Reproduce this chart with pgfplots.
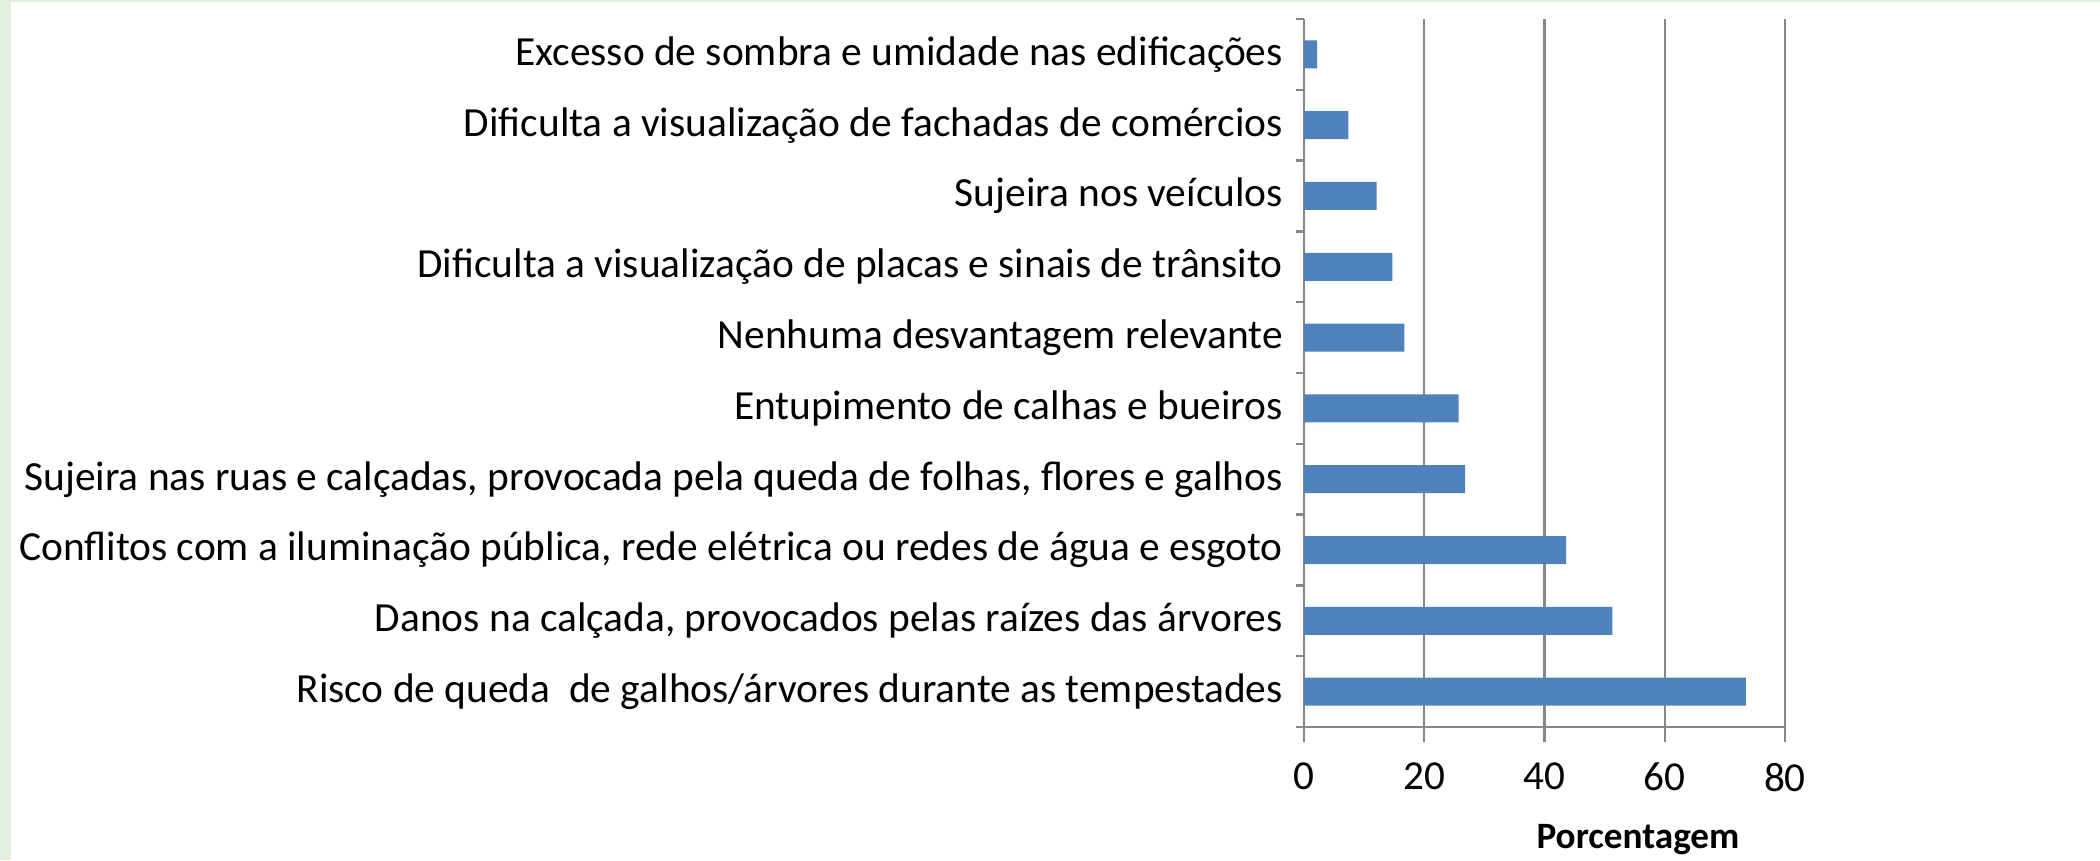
\documentclass[border=0pt]{standalone}
\usepackage{pgfplots}
\pgfplotsset{compat=1.18}
\usepackage{fontspec}
\setmainfont{Carlito}
\definecolor{barblue}{HTML}{4F81BD}
\definecolor{gridgray}{HTML}{868686}
\definecolor{bggreen}{HTML}{E2EFDA}
\begin{document}
\begin{tikzpicture}
\useasboundingbox (0pt,0pt) rectangle (525pt,215pt);
\fill[white] (0pt,0pt) rectangle (525pt,215pt);
\fill[bggreen] (0pt,0pt) rectangle (2.75pt,215pt);
\fill[bggreen] (0pt,214.5pt) rectangle (525pt,215pt);
\begin{axis}[
  at={(326pt,33.25pt)}, anchor=south west,
  scale only axis, width=120.25pt, height=177pt,
  xbar, bar width=7pt,
  xmin=0, xmax=80, ymin=-0.5, ymax=9.5,
  xtick={0,20,40,60,80},
  ytick={0,1,2,3,4,5,6,7,8,9},
  yticklabels={
    Risco de queda\ \ de galhos/árvores durante as tempestades,
    {Danos na calçada, provocados pelas raízes das árvores},
    {Conflitos com a iluminação pública, rede elétrica ou redes de água e esgoto},
    {Sujeira nas ruas e calçadas, provocada pela queda de folhas, flores e galhos},
    Entupimento de calhas e bueiros,
    Nenhuma desvantagem relevante,
    Dificulta a visualização de placas e sinais de trânsito,
    Sujeira nos veículos,
    Dificulta a visualização de fachadas de comércios,
    Excesso de sombra e umidade nas edificações},
  minor ytick={-0.5,0.5,1.5,2.5,3.5,4.5,5.5,6.5,7.5,8.5,9.5},
  axis x line*=bottom, axis y line*=left,
  axis line style={-, gridgray, line width=0.6pt},
  xmajorgrids, major grid style={gridgray, line width=0.6pt},
  tick align=outside, major tick length=3.75pt, minor tick length=2pt,
  major y tick style={draw=none},
  minor y tick style={gridgray, line width=0.6pt},
  major x tick style={gridgray, line width=0.6pt},
  /pgf/number format/assume math mode=true,
  xticklabel style={font=\fontsize{10.3}{12}\selectfont, text=black, yshift=-1.75pt},
  yticklabel style={font=\fontsize{10.35}{12}\selectfont, text=black, anchor=east, xshift=2pt},
]
\addplot[fill=barblue, draw=none] coordinates {
  (73.5,0) (51.3,1) (43.6,2) (26.8,3) (25.7,4)
  (16.7,5) (14.7,6) (12.1,7) (7.4,8) (2.2,9)
};
\end{axis}
\node[font=\bfseries\fontsize{9.3}{11}\selectfont] at (409.5pt,5pt) {Porcentagem};
\end{tikzpicture}
\end{document}
